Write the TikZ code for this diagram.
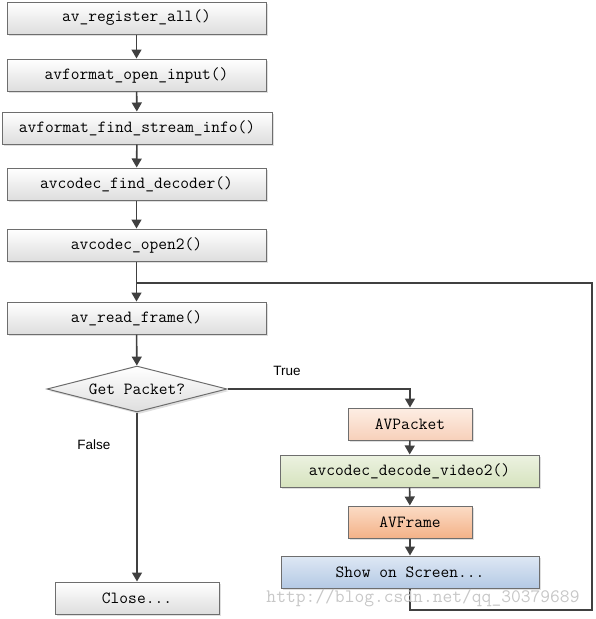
\documentclass[tikz,border=0pt]{standalone}
\usepackage{fontspec}
\setsansfont{Liberation Sans}
\usetikzlibrary{arrows.meta,shapes.geometric,shadows}
\definecolor{linegray}{HTML}{404040}
\definecolor{edgegray}{HTML}{6E6E6E}
\definecolor{peachtop}{RGB}{253,238,228}
\definecolor{peachbot}{RGB}{247,208,186}
\definecolor{greentop}{RGB}{236,242,225}
\definecolor{greenbot}{RGB}{214,227,190}
\definecolor{orangetop}{RGB}{251,220,198}
\definecolor{orangebot}{RGB}{244,178,136}
\definecolor{bluetop}{RGB}{222,232,244}
\definecolor{bluebot}{RGB}{180,201,228}
\tikzset{
  funcbox/.style={draw=edgegray, line width=1pt, minimum height=32pt,
    inner sep=0pt, font=\ttfamily\fontsize{17}{19}\selectfont,
    top color=white, bottom color=black!13,
    drop shadow={shadow xshift=2pt, shadow yshift=-2pt, opacity=0.25}},
  arr/.style={draw=linegray, line width=1.6pt,
    -{Triangle[length=9pt,width=10pt]}},
  line/.style={draw=linegray, line width=1.6pt},
  lbl/.style={font=\sffamily\fontsize{13.5}{15}\selectfont}
}
\begin{document}
\begin{tikzpicture}[x=1pt,y=-1pt]
\useasboundingbox (0,0) rectangle (595,619);
\node [funcbox, minimum width=259pt] (reg) at (136.5,18) {av\_register\_all()};
\node [funcbox, minimum width=259pt] (open) at (136.5,75) {avformat\_open\_input()};
\node [funcbox, minimum width=270pt] (info) at (137,128) {avformat\_find\_stream\_info()};
\node [funcbox, minimum width=259pt] (find) at (136.5,184) {avcodec\_find\_decoder()};
\node [funcbox, minimum width=259pt] (open2) at (136.5,245) {avcodec\_open2()};
\node [funcbox, minimum width=259pt] (read) at (136.5,318) {av\_read\_frame()};
\node [funcbox, shape=diamond, aspect=3.9, minimum width=180pt, minimum height=46pt]
  (get) at (137,389) {Get Packet?};
\node [funcbox, minimum width=124pt, top color=peachtop, bottom color=peachbot]
  (packet) at (410,424) {AVPacket};
\node [funcbox, minimum width=259pt, top color=greentop, bottom color=greenbot]
  (decode) at (409.5,471) {avcodec\_decode\_video2()};
\node [funcbox, minimum width=124pt, top color=orangetop, bottom color=orangebot]
  (frame) at (410,522) {AVFrame};
\node [funcbox, minimum width=258pt, top color=bluetop, bottom color=bluebot]
  (show) at (410,572) {Show on Screen...};
\node [funcbox, minimum width=164pt] (close) at (137,598) {Close...};
\coordinate (loopbr) at (592,610);
\coordinate (loopjoin) at (137,283);
\foreach \a/\b in {reg/open,open/info,info/find,find/open2,open2/read,read/get,
  packet/decode,decode/frame,frame/show}
  \draw [arr] (\a) -- (\b);
\draw [line] (show.south) |- (loopbr) |- (loopjoin);
\draw [arr] (get.east) -| (packet.north);
\draw [arr] (get.south) -- (close.north);
\node [lbl] (truelbl) at (287,371) {True};
\node [lbl] (falselbl) at (94,445) {False};
\node [font=\ttfamily\fontsize{19}{21}\selectfont, text=black!22]
  (mark) at (423,598) {http://blog.csdn.net/qq\_30379689};
\end{tikzpicture}
\end{document}
